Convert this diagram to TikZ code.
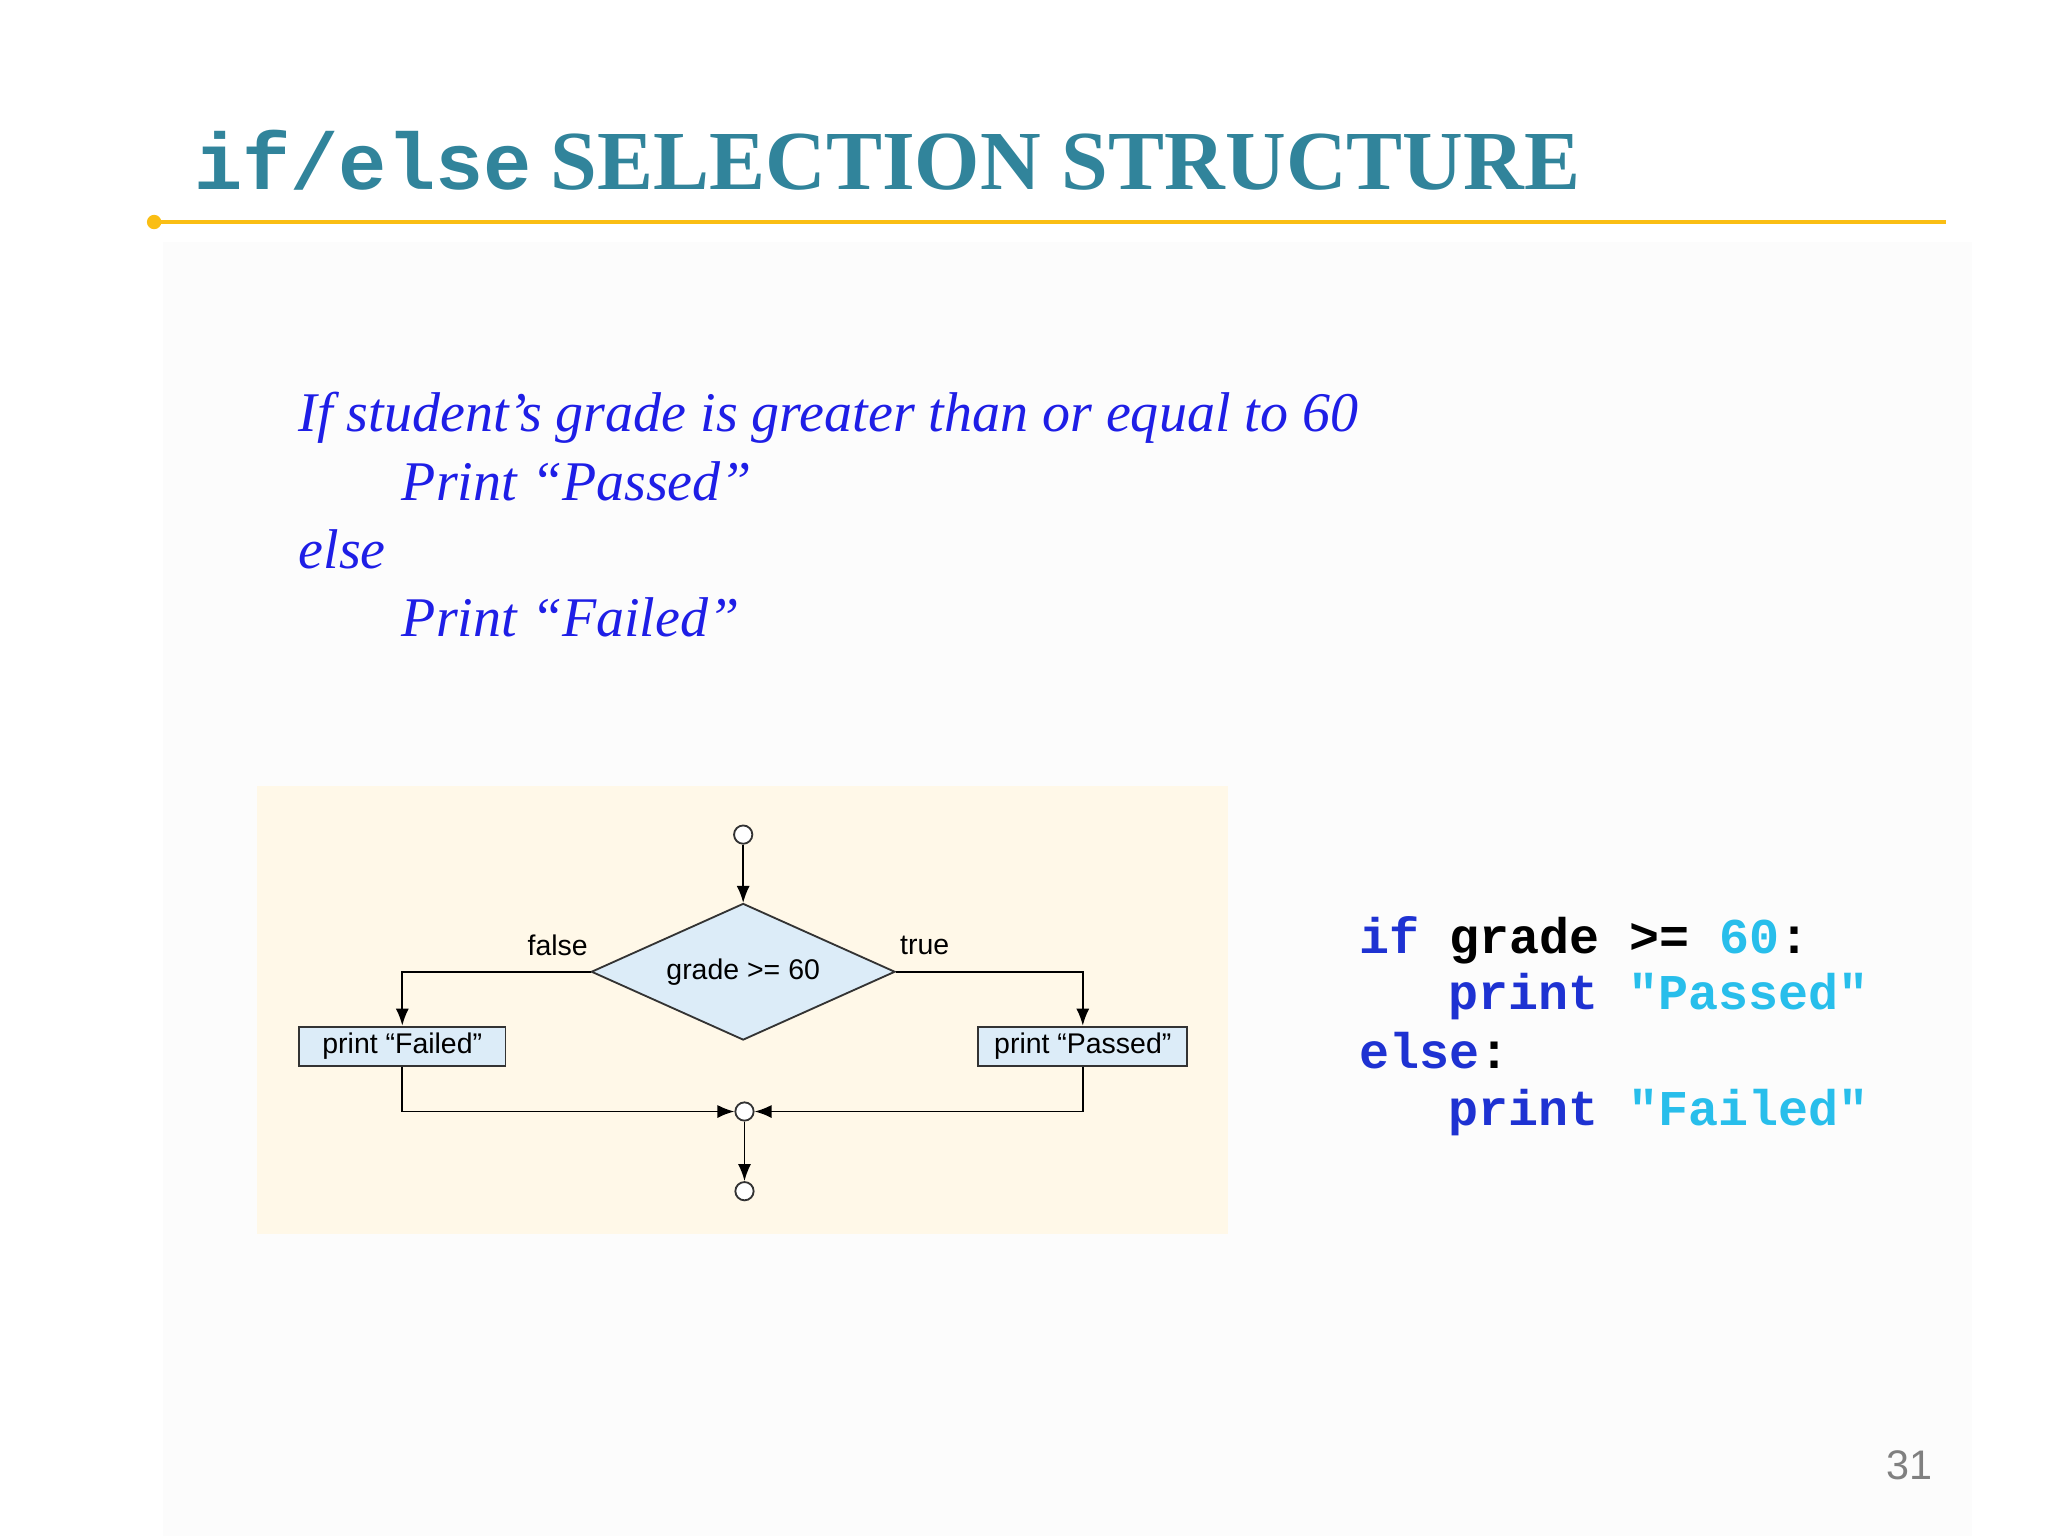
\documentclass[tikz,border=0pt]{standalone}
\usepackage{fontspec}
\setmainfont{Liberation Serif}
\setsansfont{Liberation Sans}
\setmonofont{Liberation Mono}
\usetikzlibrary{shapes.geometric, arrows.meta, positioning, calc}
\definecolor{titleteal}{RGB}{49,132,155}
\definecolor{ruleyellow}{RGB}{250,190,20}
\definecolor{textblue}{RGB}{30,30,230}
\definecolor{keyblue}{RGB}{30,50,210}
\definecolor{strcyan}{RGB}{40,190,235}
\definecolor{cream}{RGB}{255,248,232}
\definecolor{boxblue}{RGB}{220,236,248}

\begin{document}
\begin{tikzpicture}[
        x=1cm, y=-1cm,
        flow/.style={
            draw=black!80,
            thin,
            fill=boxblue,
            font=\sffamily\fontsize{6.2}{8}\selectfont
        },
        actbox/.style={
            flow,
            rectangle,
            minimum width=1.58cm,
            minimum height=0.3cm,
            inner sep=0pt
        },
        decision/.style={
            rectangle,
            font=\sffamily\fontsize{6.2}{8}\selectfont,
            minimum width=2.32cm,
            minimum height=1.04cm,
            inner sep=0pt
        },
        endpoint/.style={
            circle,
            draw=black!80,
            thin,
            fill=white,
            minimum size=0.14cm,
            inner sep=0pt
        },
        arrow/.style={
            -{Latex[length=1.3mm,width=1mm]},
            thin
        },
        pseudo/.style={
            anchor=base west,
            inner sep=0pt,
            text=textblue,
            font=\itshape\fontsize{12.2}{15}\selectfont
        },
        code/.style={
            anchor=base west,
            inner sep=0pt,
            font=\ttfamily\bfseries\fontsize{10.9}{13}\selectfont
        },
        edgelabel/.style={
            font=\sffamily\fontsize{6.2}{8}\selectfont
        }
    ]

    % Slide frame
    \fill[white] (0,0) rectangle (15.68,11.76);
    \fill[gray!2] (1.25,1.85) rectangle (15.1,11.76);
    \node[anchor=base west, text=titleteal, inner sep=0pt] (title) at (1.48,1.45)
        {{\ttfamily\bfseries\fontsize{17.5}{20}\selectfont if/else}\,
         {\bfseries\fontsize{18.3}{20}\selectfont SELECTION STRUCTURE}};
    \draw[ruleyellow, thick] (1.18,1.7) -- (14.9,1.7);
    \fill[ruleyellow] (1.18,1.7) circle (0.055);

    % Pseudocode
    \node[pseudo] (line1) at (2.28,3.3) {If student’s grade is greater than or equal to 60};
    \node[pseudo] (line2) at (3.07,3.83) {Print “Passed”};
    \node[pseudo] (line3) at (2.28,4.35) {else};
    \node[pseudo] (line4) at (3.07,4.87) {Print “Failed”};

    % Flowchart
    \fill[cream] (1.97,6.02) rectangle (9.4,9.45);
    \coordinate (testc) at (5.69,7.44);
    \filldraw[flow] ($(testc)+(0,-0.52)$) -- ($(testc)+(1.16,0)$)
        -- ($(testc)+(0,0.52)$) -- ($(testc)+(-1.16,0)$) -- cycle;
    \node[decision] (test) at (testc) {grade >= 60};
    \node[endpoint] (start) at (5.69,6.39) {};
    \node[actbox] (failed) at (3.08,8.01) {print “Failed”};
    \node[actbox, minimum width=1.6cm] (passed) at (8.29,8.01) {print “Passed”};
    \node[endpoint] (merge) at (5.7,8.51) {};
    \node[endpoint] (stop) at (5.7,9.12) {};

    \draw[arrow] (start) -- (test.north);
    \draw[arrow] (test.west) -| (failed.north);
    \draw[arrow] (test.east) -| (passed.north);
    \draw[arrow] (failed.south) |- (merge.west);
    \draw[arrow] (passed.south) |- (merge.east);
    \draw[arrow] (merge) -- (stop);
    \node[edgelabel] (falselbl) at (4.27,7.24) {false};
    \node[edgelabel] (truelbl) at (7.08,7.24) {true};

    % Python code
    \node[code] (code1) at (10.4,7.3) {\textcolor{keyblue}{if} grade >= \textcolor{strcyan}{60}:};
    \node[code] (code2) at (11.08,7.73) {\textcolor{keyblue}{print} \textcolor{strcyan}{"Passed"}};
    \node[code] (code3) at (10.4,8.18) {\textcolor{keyblue}{else}:};
    \node[code] (code4) at (11.08,8.62) {\textcolor{keyblue}{print} \textcolor{strcyan}{"Failed"}};

    % Page number
    \node[text=gray, font=\sffamily\fontsize{9}{11}\selectfont] (pagenum) at (14.62,11.22) {31};
\end{tikzpicture}
\end{document}
